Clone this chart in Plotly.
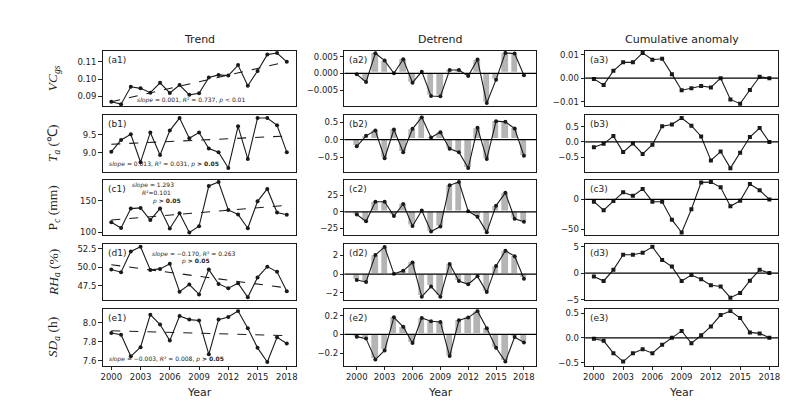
import plotly.graph_objects as go

years = list(range(2000, 2019))

# ---- Trend column (raw series) ----
vc_trend = [0.0868, 0.0854, 0.0955, 0.0946, 0.0921, 0.0978, 0.0919, 0.0965, 0.0908, 0.0917,
            0.1009, 0.1024, 0.1020, 0.1081, 0.0961, 0.1047, 0.1142, 0.1151, 0.1100]
ta_trend = [9.03, 9.36, 9.52, 8.74, 9.57, 8.94, 9.62, 9.97, 9.41, 9.57,
            9.12, 9.02, 8.58, 9.74, 8.83, 9.97, 9.97, 9.77, 9.02]
pc_trend = [116.0, 107.2, 137.6, 138.7, 119.6, 137.6, 106.2, 130.4, 100.0, 109.8,
            173.2, 179.4, 135.6, 128.4, 106.7, 149.0, 168.6, 131.4, 127.8]
rh_trend = [49.69, 49.34, 52.15, 52.77, 49.65, 49.78, 50.49, 46.69, 47.66, 46.33,
            49.69, 47.75, 47.17, 47.84, 45.93, 48.63, 50.09, 49.38, 46.77]
sd_trend = [7.890, 7.872, 7.645, 7.741, 8.083, 7.979, 7.810, 8.069, 8.031, 8.021,
            7.666, 8.031, 8.059, 8.121, 7.941, 7.734, 7.586, 7.845, 7.779]

# fitted trend line end points (2000, 2018)
trend_start = [0.0868, 9.24, 119.6, 50.35, 7.914]
trend_end = [0.1100, 9.47, 142.8, 47.20, 7.862]

# ---- Detrend column ----
vc_detrend = [-0.0003, -0.0026, 0.0060, 0.0038, 0.0000, 0.0042, -0.0028, 0.0005, -0.0068, -0.0069,
              0.0010, 0.0010, -0.0008, 0.0041, -0.0089, -0.0019, 0.0061, 0.0059, -0.0006]
ta_detrend = [-0.19, 0.11, 0.26, -0.53, 0.29, -0.36, 0.31, 0.64, 0.06, 0.21,
              -0.26, -0.36, -0.81, 0.34, -0.55, 0.53, 0.51, 0.32, -0.46]
pc_detrend = [-4.0, -14.5, 15.5, 15.5, -6.5, 12.0, -21.5, 2.0, -30.0, -22.5,
              40.5, 45.5, 1.0, -7.5, -31.0, 9.5, 29.0, -10.5, -15.0]
rh_detrend = [-0.63, -0.83, 2.02, 2.89, 0.03, 0.35, 1.22, -2.40, -1.32, -2.40,
              1.08, -0.73, -1.08, -0.24, -1.91, 0.87, 2.47, 1.91, -0.49]
sd_detrend = [-0.024, -0.045, -0.268, -0.171, 0.181, 0.080, -0.091, 0.174, 0.139, 0.132,
              -0.230, 0.150, 0.178, 0.247, 0.066, -0.143, -0.289, -0.028, -0.087]

# ---- Cumulative anomaly column ----
vc_cum = [-0.0003, -0.0029, 0.0031, 0.0067, 0.0067, 0.0107, 0.0078, 0.0082, 0.0017, -0.0051,
          -0.0043, -0.0033, -0.0039, 0.0000, -0.0090, -0.0108, -0.0050, 0.0006, 0.0000]
ta_cum = [-0.17, -0.06, 0.19, -0.33, -0.05, -0.39, -0.09, 0.51, 0.57, 0.78,
          0.53, 0.18, -0.60, -0.31, -0.85, -0.35, 0.16, 0.45, 0.00]
pc_cum = [-3.8, -18.0, -2.7, 12.0, 6.0, 17.6, -3.8, -3.8, -34.0, -55.5,
          -16.5, 28.6, 29.1, 20.3, -11.5, -2.2, 25.8, 15.4, 0.0]
rh_cum = [-0.62, -1.48, 0.62, 3.46, 3.46, 3.83, 4.94, 2.47, 1.23, -1.48,
          -0.37, -1.17, -2.28, -2.53, -4.63, -3.77, -1.42, 0.62, 0.00]
sd_cum = [-0.02, -0.06, -0.31, -0.48, -0.31, -0.23, -0.31, -0.14, 0.00, 0.14,
          -0.11, 0.05, 0.23, 0.46, 0.54, 0.40, 0.11, 0.09, 0.00]

trend_series = [vc_trend, ta_trend, pc_trend, rh_trend, sd_trend]
detrend_series = [vc_detrend, ta_detrend, pc_detrend, rh_detrend, sd_detrend]
cum_series = [vc_cum, ta_cum, pc_cum, rh_cum, sd_cum]

col_titles = ["Trend", "Detrend", "Cumulative anomaly"]
row_labels = ["a", "b", "c", "d", "e"]
y_titles = ["<i>VC</i><sub><i>gs</i></sub>", "<i>T</i><sub><i>a</i></sub> (\u2103)",
            "P<sub><i>c</i></sub> (mm)", "<i>RH</i><sub><i>a</i></sub> (%)",
            "<i>SD</i><sub><i>a</i></sub> (h)"]
x_ticks = [2000, 2003, 2006, 2009, 2012, 2015, 2018]

# y tick values / labels per panel [row][col]
y_tickvals = [
    [[0.09, 0.10, 0.11], [-0.005, 0.0, 0.005], [-0.01, 0.0, 0.01]],
    [[9.0, 9.5], [-0.5, 0.0, 0.5], [-0.5, 0.0, 0.5]],
    [[100, 150], [-25, 0, 25], [-50, 0]],
    [[47.5, 50.0, 52.5], [-2, 0, 2], [-5, 0, 5]],
    [[7.6, 7.8, 8.0], [-0.2, 0, 0.2], [-0.5, 0.0, 0.5]],
]
y_ticktext = [
    [["0.09", "0.10", "0.11"], ["\u22120.005", "0.000", "0.005"], ["\u22120.01", "0.00", "0.01"]],
    [["9.0", "9.5"], ["\u22120.5", "0.0", "0.5"], ["\u22120.5", "0.0", "0.5"]],
    [["100", "150"], ["\u221225", "0", "25"], ["\u221250", "0"]],
    [["47.5", "50.0", "52.5"], ["\u22122", "0", "2"], ["\u22125", "0", "5"]],
    [["7.6", "7.8", "8.0"], ["\u22120.2", "0", "0.2"], ["\u22120.5", "0.0", "0.5"]],
]
y_ranges = [
    [[0.0843, 0.1163], [-0.0098, 0.00667], [-0.0118, 0.0115]],
    [[8.48, 10.05], [-0.91, 0.70], [-0.96, 0.87]],
    [[95.4, 183.0], [-36.0, 49.0], [-60.4, 33.0]],
    [[45.53, 53.12], [-2.78, 3.17], [-5.12, 5.43]],
    [[7.548, 8.141], [-0.331, 0.268], [-0.56, 0.58]],
]

# stats text per trend panel: list of (text, x_px, y_px)
stats = [
    [("<i>slope</i> = 0.001, <i>R</i>\u00b2 = 0.737, <i>p</i> < 0.01", 127, 91)],
    [("<i>slope</i> = 0.013, <i>R</i>\u00b2 = 0.031, <i>p</i> <b>> 0.05</b>", 98, 156)],
    [("<i>slope</i> = 1.293", 122, 177), ("<i>R</i>\u00b2=0.101", 132, 185),
     ("<i>p</i> <b>> 0.05</b>", 142, 193)],
    [("<i>slope</i> = \u22120.170, <i>R</i>\u00b2 = 0.263", 142, 247),
     ("<i>p</i> <b>> 0.05</b>", 171, 254)],
    [("<i>slope</i> = \u22120.003, <i>R</i>\u00b2 = 0.008, <i>p</i> <b>> 0.05</b>", 98, 354)],
]

W, H = 805, 411
col_px = [(93, 287), (336, 529), (578, 772)]
row_px = [(40.7, 96.7), (106, 163.3), (171.7, 228.3), (237.3, 294.3), (303.3, 360.7)]
x_ranges = [[1999.1, 2018.9], [1998.66, 2019.34], [1999.1, 2018.9]]

LINE = "#1a1a1a"
TICKFONT = dict(family="DejaVu Sans", size=8.5, color="#222")

fig = go.Figure()
annotations = []
shapes = []

for r in range(5):
    for c in range(3):
        k = r * 3 + c + 1
        xa = "x" if k == 1 else f"x{k}"
        ya = "y" if k == 1 else f"y{k}"
        if c == 0:
            fig.add_trace(go.Scatter(x=[years[0], years[-1]], y=[trend_start[r], trend_end[r]],
                                     mode="lines", line=dict(color=LINE, width=1.1, dash="dash"),
                                     xaxis=xa, yaxis=ya, showlegend=False))
            fig.add_trace(go.Scatter(x=years, y=trend_series[r], mode="lines+markers",
                                     line=dict(color=LINE, width=1.1),
                                     marker=dict(symbol="circle", size=4, color=LINE),
                                     xaxis=xa, yaxis=ya, showlegend=False))
        elif c == 1:
            fig.add_trace(go.Bar(x=years, y=detrend_series[r], width=0.8,
                                 marker=dict(color="#b4b4b4", line=dict(color="white", width=1.2)),
                                 xaxis=xa, yaxis=ya, showlegend=False))
            fig.add_trace(go.Scatter(x=years, y=detrend_series[r], mode="lines+markers",
                                     line=dict(color=LINE, width=1.1),
                                     marker=dict(symbol="circle", size=4, color=LINE),
                                     xaxis=xa, yaxis=ya, showlegend=False))
        else:
            fig.add_trace(go.Scatter(x=years, y=cum_series[r], mode="lines+markers",
                                     line=dict(color=LINE, width=1.1),
                                     marker=dict(symbol="square", size=4, color=LINE),
                                     xaxis=xa, yaxis=ya, showlegend=False))
        if c > 0:
            shapes.append(dict(type="line", xref=f"{xa} domain", yref=ya, x0=0, x1=1, y0=0, y1=0,
                               line=dict(color="black", width=1.2), layer="above"))
        x0, x1 = col_px[c]
        y0, y1 = row_px[r]
        bottom = r == 4
        fig.update_layout({
            ("xaxis" if k == 1 else f"xaxis{k}"): dict(
                domain=[x0 / W, x1 / W], anchor=ya, range=x_ranges[c],
                showline=True, mirror=True, linecolor="#1a1a1a", linewidth=1,
                showgrid=False, zeroline=False,
                ticks="outside" if bottom else "", ticklen=3.5, tickwidth=0.8, tickcolor="#222",
                tickvals=x_ticks, showticklabels=bottom, tickfont=TICKFONT),
            ("yaxis" if k == 1 else f"yaxis{k}"): dict(
                domain=[1 - y1 / H, 1 - y0 / H], anchor=xa, range=y_ranges[r][c],
                showline=True, mirror=True, linecolor="#1a1a1a", linewidth=1,
                showgrid=False, zeroline=False,
                ticks="outside", ticklen=3.5, tickwidth=0.8, tickcolor="#222",
                tickvals=y_tickvals[r][c], ticktext=y_ticktext[r][c], tickfont=TICKFONT),
        })
        annotations.append(dict(text=f"({row_labels[r]}{c + 1})", xref="paper", yref="paper",
                                x=(x0 + 3) / W, y=1 - (y0 + 2) / H, xanchor="left", yanchor="top",
                                showarrow=False, font=dict(family="DejaVu Sans", size=9, color="#222")))

for r in range(5):
    y0, y1 = row_px[r]
    annotations.append(dict(text=y_titles[r], xref="paper", yref="paper", x=44 / W,
                            y=1 - (y0 + y1) / 2 / H, textangle=-90, showarrow=False,
                            xanchor="center", yanchor="middle",
                            font=dict(family="Liberation Serif", size=13.5, color="#222")))
    for txt, px, py in stats[r]:
        annotations.append(dict(text=txt, xref="paper", yref="paper", x=px / W, y=1 - py / H,
                                xanchor="left", yanchor="middle", showarrow=False, borderpad=0,
                                font=dict(family="DejaVu Sans", size=6, color="#222")))

for c in range(3):
    x0, x1 = col_px[c]
    annotations.append(dict(text=col_titles[c], xref="paper", yref="paper", x=(x0 + x1) / 2 / W,
                            y=1 - 29 / H, xanchor="center", yanchor="middle", showarrow=False,
                            font=dict(family="DejaVu Sans", size=11, color="#222")))
    annotations.append(dict(text="Year", xref="paper", yref="paper", x=(x0 + x1) / 2 / W,
                            y=1 - 388 / H, xanchor="center", yanchor="middle", showarrow=False,
                            font=dict(family="DejaVu Sans", size=11, color="#222")))

fig.update_layout(width=W, height=H, margin=dict(l=0, r=0, t=0, b=0),
                  paper_bgcolor="white", plot_bgcolor="white",
                  annotations=annotations, shapes=shapes, barmode="overlay", bargap=0)

fig.write_html("out.html")
